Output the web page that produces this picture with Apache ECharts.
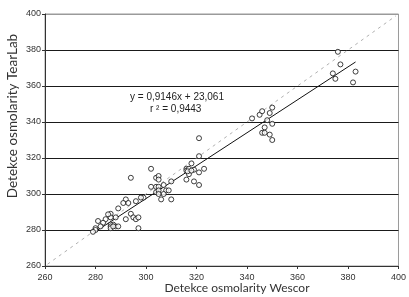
<!DOCTYPE html>
<html>
<head>
<meta charset="utf-8">
<script src="https://cdn.jsdelivr.net/npm/echarts@6/dist/echarts.min.js"></script>
<style>
html, body { margin: 0; padding: 0; background: #fff; }
#chart { width: 409px; height: 297px; }
</style>
</head>
<body>
<div id="chart"></div>
<script>
// Wescor (x) vs TearLab (y)
var wescor = [376, 377, 374, 375, 383, 382,
    342, 345, 346, 350, 349, 348, 347, 346, 347, 350, 349, 350,
    321, 321, 323, 321, 321, 319, 318, 319, 316, 316, 317, 317, 316.5, 316, 318,
    302, 304, 305, 305, 304, 302, 305, 304, 305, 305, 307, 310, 308, 309, 307, 306, 310,
    294,
    299, 298, 296, 292, 291, 293, 289, 294, 295, 296, 297, 292, 297, 288, 288, 289, 287,
    286, 286, 285, 284, 283, 282, 281, 280, 280, 279, 286, 286, 286, 287];
var tearlab = [379, 372, 367, 364, 368, 362,
    342, 344, 346, 348, 345, 341, 337, 334, 334, 339, 333, 330,
    331, 321, 314, 312, 305, 307, 317, 313.5, 314, 313, 314, 311, 312.6, 308, 313,
    314, 309, 310, 308, 304, 304, 304, 301, 302, 300, 305, 307, 302, 302, 300, 297, 297,
    309,
    298, 298, 296, 297, 295, 295, 292, 289, 287, 286, 287, 286, 281, 287, 282, 282, 283,
    289, 287, 288.7, 286, 284, 282, 285, 281, 280, 279, 283, 282, 281, 282];

// regression y = 0,9146x + 23,061
var slope = 0.9146;
var intercept = 23.061;
var fitRange = [280, 383];
var identityRange = [261, 399];

var xTicks = [260, 280, 300, 320, 340, 360, 380, 400];

var points = wescor.map(function (x, i) { return [x, tearlab[i]]; });
var fitLine = fitRange.map(function (x) { return [x, slope * x + intercept]; });
var identity = identityRange.map(function (x) { return [x, x]; });

var chart = echarts.init(document.getElementById('chart'));
var labelFont = 'Liberation Sans';
var nameFont = 'Lato';

chart.setOption({
    animation: false,
    grid: {
        left: 45, right: 9, top: 14, bottom: 31,
        show: true,
        borderColor: '#9a9a9a',
        borderWidth: 1
    },
    xAxis: {
        type: 'value',
        min: xTicks[0],
        max: xTicks[xTicks.length - 1],
        interval: 20,
        axisLine: { lineStyle: { color: '#333', width: 1 } },
        axisTick: { show: true, length: 3, lineStyle: { color: '#333' } },
        axisLabel: { color: '#333', fontSize: 9, fontFamily: labelFont, margin: 7 },
        splitLine: { show: false }
    },
    yAxis: {
        type: 'value',
        min: xTicks[0],
        max: xTicks[xTicks.length - 1],
        interval: 20,
        axisLine: { show: true, lineStyle: { color: '#333', width: 1 } },
        axisTick: { show: true, length: 3, lineStyle: { color: '#333' } },
        axisLabel: { color: '#333', fontSize: 9, fontFamily: labelFont, margin: 4 },
        splitLine: {
            show: true,
            lineStyle: {
                color: ['#333', '#1a1a1a', '#1a1a1a', '#1a1a1a', '#1a1a1a', '#1a1a1a', '#1a1a1a', '#9a9a9a'],
                width: 1
            }
        }
    },
    graphic: [
        {
            type: 'text', x: 237, y: 288,
            style: {
                text: 'Detekce osmolarity Wescor', fill: '#333', font: '12px ' + nameFont,
                align: 'center', verticalAlign: 'middle'
            }
        },
        {
            type: 'text', x: 13, y: 116, rotation: Math.PI / 2,
            style: {
                text: 'Detekce osmolarity TearLab', fill: '#333', font: '13.5px ' + nameFont,
                align: 'center', verticalAlign: 'middle'
            }
        },
        {
            type: 'text', left: 130, top: 92,
            style: { text: 'y = 0,9146x + 23,061', fill: '#222', font: '10px ' + labelFont }
        },
        {
            type: 'text', left: 150, top: 104,
            style: { text: 'r ² = 0,9443', fill: '#222', font: '10px ' + labelFont }
        }
    ],
    series: [
        {
            type: 'line',
            data: identity,
            symbol: 'none',
            lineStyle: { color: '#b0b0b0', width: 1, type: [3, 4] },
            z: 1
        },
        {
            type: 'line',
            data: fitLine,
            symbol: 'none',
            lineStyle: { color: '#111', width: 1 },
            z: 2
        },
        {
            type: 'scatter',
            data: points,
            symbol: 'circle',
            symbolSize: 5,
            itemStyle: { color: '#fff', borderColor: '#111', borderWidth: 1 },
            z: 3
        }
    ]
});
</script>
</body>
</html>
